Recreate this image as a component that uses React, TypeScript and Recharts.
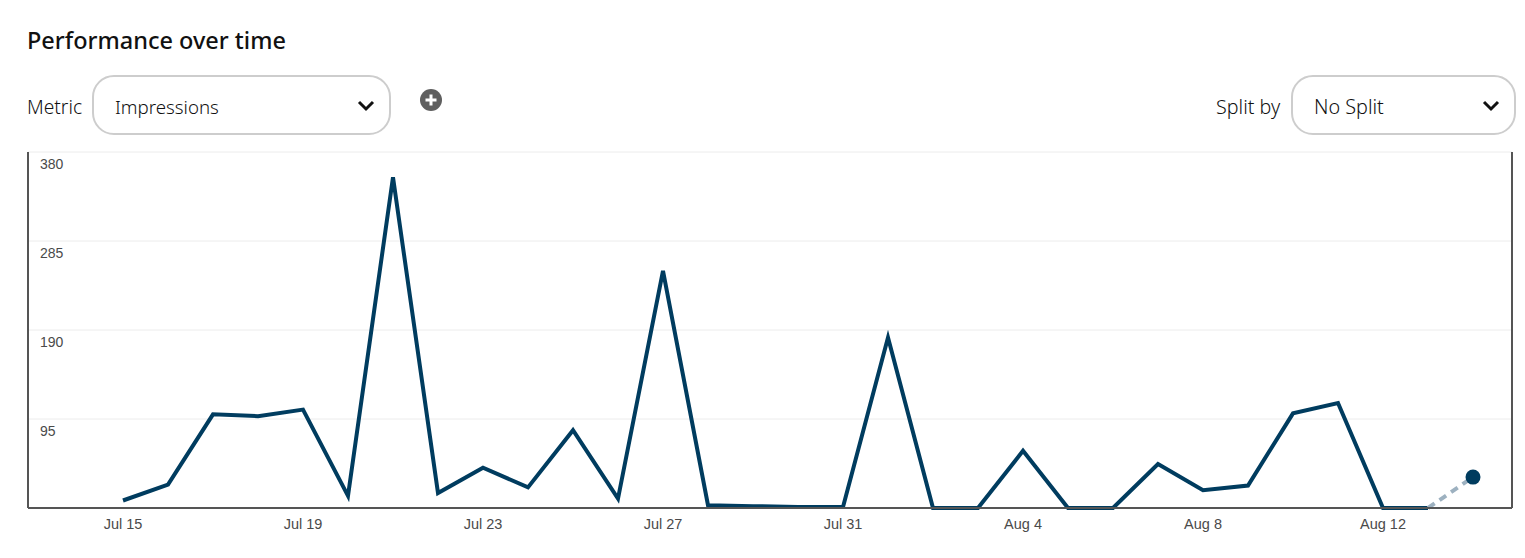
import { LineChart, Line, XAxis, YAxis, CartesianGrid } from "recharts";

const days = [
  "Jul 15", "Jul 16", "Jul 17", "Jul 18", "Jul 19", "Jul 20", "Jul 21", "Jul 22",
  "Jul 23", "Jul 24", "Jul 25", "Jul 26", "Jul 27", "Jul 28", "Jul 29", "Jul 30",
  "Jul 31", "Aug 1", "Aug 2", "Aug 3", "Aug 4", "Aug 5", "Aug 6", "Aug 7",
  "Aug 8", "Aug 9", "Aug 10", "Aug 11", "Aug 12", "Aug 13", "Aug 14",
];
const impressions = [
  8, 25, 100, 98, 105, 13, 353, 16, 43, 22, 83, 10, 253, 3, 2, 1, 1, 182, 0, 0,
  61, 0, 0, 47, 19, 24, 101, 112, 0, 0,
];
// last two days are still provisional, drawn dashed
const provisional = [0, 33];
const yTicks = [0, 95, 190, 285, 380];

const firstProvisional = days.length - provisional.length;
const data = days.map((day, i) => ({
  day,
  impressions: i < impressions.length ? impressions[i] : null,
  provisional: i >= firstProvisional ? provisional[i - firstProvisional] : null,
}));

const font = '"Noto Sans", sans-serif';
const navy = "#003c5f";

const YTick = ({ y, payload }: any) =>
  payload.value === 0 ? null : (
    <text x={40} y={y + 16.5} fontSize={14} fontFamily="Liberation Sans" fill="#4a4a4a">
      {payload.value}
    </text>
  );

const EndDot = ({ cx, cy, index }: any) =>
  index === days.length - 1 ? <circle cx={cx} cy={cy} r={7.5} fill={navy} /> : null;

const Select = ({ label, left, width, size }: { label: string; left: number; width: number; size: number }) => (
  <div
    style={{
      position: "absolute",
      left,
      top: 75,
      width,
      height: 60,
      boxSizing: "border-box",
      border: "2px solid #cdcdcd",
      borderRadius: 22,
      fontSize: size,
      fontWeight: 300,
      lineHeight: "60px",
      paddingLeft: 21,
      color: "#111",
    }}
  >
    {label}
    <svg width={18} height={12} style={{ position: "absolute", right: 14, top: 23 }}>
      <path d="M2 2 L9 9 L16 2" fill="none" stroke="#111" strokeWidth={3} />
    </svg>
  </div>
);

export default function App() {
  return (
    <div style={{ position: "absolute", left: 0, top: 0, width: 1525, height: 558, fontFamily: font, background: "#fff" }}>
      <div style={{ position: "absolute", left: 27, top: 22, fontSize: 23.5, fontWeight: 500, lineHeight: "36px", color: "#111" }}>
        Performance over time
      </div>
      <div style={{ position: "absolute", left: 27, top: 93, fontSize: 19.2, fontWeight: 300, lineHeight: "28px", color: "#111" }}>Metric</div>
      <Select label="Impressions" left={92} width={299} size={18.7} />
      <svg width={24} height={24} style={{ position: "absolute", left: 419, top: 88 }}>
        <circle cx={12} cy={12} r={11} fill="#5f5f5f" />
        <path d="M12 6.5 V17.5 M6.5 12 H17.5" stroke="#fff" strokeWidth={3} />
      </svg>
      <div style={{ position: "absolute", left: 1216, top: 93, fontSize: 19.7, fontWeight: 300, lineHeight: "28px", color: "#111" }}>Split by</div>
      <Select label="No Split" left={1291} width={225} size={19.8} />
      <div style={{ position: "absolute", left: 0, top: 0 }}>
        <LineChart width={1525} height={558} data={data} margin={{ top: 152, right: 12, bottom: 0, left: 27 }}>
          <CartesianGrid vertical={false} stroke="#ececec" strokeWidth={1} />
          <XAxis
            dataKey="day"
            interval={3}
            padding={{ left: 95, right: 39 }}
            tickLine={false}
            axisLine={{ stroke: "#555", strokeWidth: 2 }}
            tick={{ fontSize: 14.5, fontFamily: "Liberation Sans", fill: "#4a4a4a", dy: 3 }}
            height={50}
          />
          <YAxis
            width={1}
            domain={[0, 380]}
            ticks={yTicks}
            tickLine={false}
            axisLine={{ stroke: "#555", strokeWidth: 2 }}
            tick={<YTick />}
          />
          <YAxis yAxisId="right" orientation="right" width={1} domain={[0, 380]} tick={false} tickLine={false} axisLine={{ stroke: "#555", strokeWidth: 2 }} />
          <Line dataKey="impressions" stroke={navy} strokeWidth={4} dot={false} isAnimationActive={false} strokeLinejoin="miter" />
          <Line dataKey="provisional" stroke="#9db1c0" strokeWidth={4} strokeDasharray="8 6" dot={<EndDot />} isAnimationActive={false} />
        </LineChart>
      </div>
    </div>
  );
}
